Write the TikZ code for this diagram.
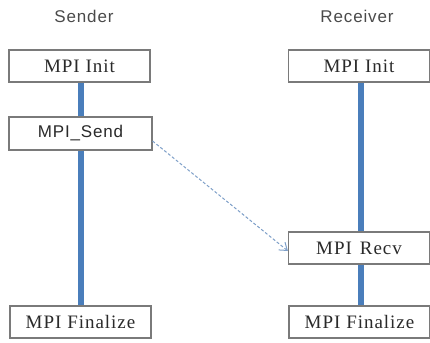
\documentclass[tikz,border=0pt]{standalone}
\usepackage{fontspec}
\setmainfont{Liberation Serif}[LetterSpace=5]
\newfontfamily\lblfont{Liberation Sans}[LetterSpace=5]
\usetikzlibrary{arrows.meta}
\definecolor{barblue}{HTML}{4A7EBB}
\definecolor{boxline}{HTML}{7A7A7A}
\definecolor{txt}{HTML}{2A2A2A}
\definecolor{msg}{HTML}{7E9FC8}
\begin{document}
\begin{tikzpicture}[x=1pt,y=-1pt,
  box/.style={draw=boxline,line width=1.1pt,fill=white,minimum width=141pt,minimum height=32pt,inner sep=0pt,text=txt,font=\fontsize{19}{21}\selectfont},
  lbl/.style={text=txt!85,font=\lblfont\fontsize{17}{19}\selectfont},
  bar/.style={draw=barblue,line width=6pt},
  msgarrow/.style={draw=msg,line width=1pt,dash pattern=on 3pt off 2pt,-{Straight Barb[length=7pt,width=10pt,line width=1pt]}}]
\useasboundingbox (0,0) rectangle (430,342);
\node[lbl] (sender) at (84,16) {Sender};
\node[lbl] (receiver) at (357,16) {Receiver};
\node[box] (initL) at (79.5,66) {MPI\hspace{6pt}Init};
\node[box,minimum width=143pt,minimum height=33pt,font=\lblfont\fontsize{17}{19}\selectfont] (sendL) at (80.5,133.5) {MPI\_Send};
\node[box] (finL) at (80.5,322) {MPI\hspace{6pt}Finalize};
\node[box] (initR) at (359,66) {MPI\hspace{6pt}Init};
\node[box] (recvR) at (359,248) {MPI\hspace{8pt}Recv};
\node[box] (finR) at (359.5,322) {MPI\hspace{6pt}Finalize};
\draw[bar] ([xshift=1.5pt]initL.south) -- ([xshift=0.5pt]sendL.north);
\draw[bar] ([xshift=0.5pt]sendL.south) -- ([xshift=0.5pt]finL.north);
\draw[bar] ([xshift=2pt]initR.south) -- ([xshift=2pt]recvR.north);
\draw[bar] ([xshift=2pt]recvR.south) -- ([xshift=1.5pt]finR.north);
\draw[msgarrow] ([yshift=-7.5pt]sendL.east) -- ([yshift=-3pt]recvR.west);
\end{tikzpicture}
\end{document}
